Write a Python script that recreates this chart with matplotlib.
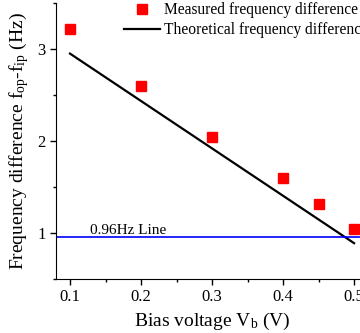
import matplotlib.pyplot as plt
from matplotlib.ticker import MultipleLocator

plt.rcParams['font.family'] = ['Liberation Serif', 'DejaVu Serif']
plt.rcParams['mathtext.fontset'] = 'custom'
plt.rcParams['mathtext.rm'] = 'Liberation Serif'
plt.rcParams['mathtext.it'] = 'Liberation Serif:italic'

bias = [0.1, 0.2, 0.3, 0.4, 0.45, 0.5]
measured = [3.22, 2.60, 2.04, 1.60, 1.32, 1.04]
theory_x = [0.1, 0.5]
theory_y = [2.95, 0.89]
ref_level = 0.96

fig = plt.figure(figsize=(3.6, 3.33), dpi=100)
ax = fig.add_axes([0.155, 0.162, 0.868, 0.829])

ax.plot(bias, measured, 's', color='red', markersize=6.5, label="Measured frequency difference")
ax.plot(theory_x, theory_y, '-', color='black', lw=1.6, label="Theoretical frequency difference")
ax.axhline(ref_level, color='#0000ff', lw=1.2)
ax.text(0.128, 0.99, "0.96Hz Line", fontsize=11)

ax.set_xlim(0.08, 0.52)
ax.set_ylim(0.5, 3.5)
ax.xaxis.set_major_locator(MultipleLocator(0.1))
ax.xaxis.set_minor_locator(MultipleLocator(0.05))
ax.yaxis.set_major_locator(MultipleLocator(1))
ax.yaxis.set_minor_locator(MultipleLocator(0.5))
ax.tick_params(direction='out', labelsize=12, length=4, width=1)
ax.tick_params(which='minor', direction='out', length=2.5, width=1)
ax.spines['top'].set_visible(False)
ax.spines['right'].set_visible(False)

ax.set_xlabel(r"Bias voltage V$_{\mathrm{b}}$ (V)", fontsize=14)
ax.set_ylabel(r"Frequency difference f$_{\mathrm{op}}$-f$_{\mathrm{ip}}$ (Hz)", fontsize=14)

fig.legend(loc='upper left', bbox_to_anchor=(0.305, 1.035), frameon=False, fontsize=11.2,
           handlelength=2.3, handletextpad=0.3, labelspacing=0.25, numpoints=1)

plt.savefig("out.png", dpi=100)
